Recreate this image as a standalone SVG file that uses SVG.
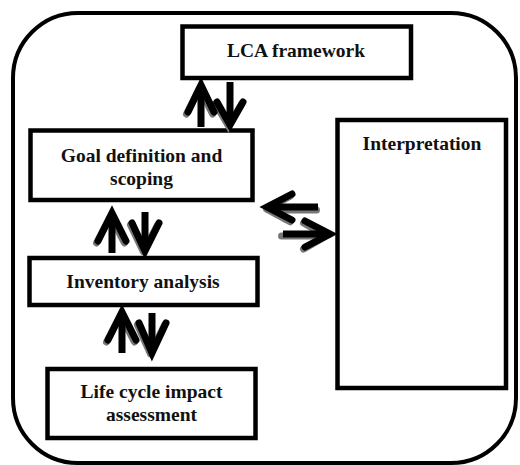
<svg xmlns="http://www.w3.org/2000/svg" width="520" height="465" viewBox="0 0 520 465">
<style>
.box{fill:#fff;stroke:#000;stroke-width:4.5}
.frame{fill:#fff;stroke:#000;stroke-width:4}
.lbl{font-family:"Liberation Serif","Times New Roman",serif;font-weight:bold;font-size:19.5px;fill:#111;text-anchor:middle}
.shaft{fill:none;stroke:#000;stroke-width:7;stroke-linecap:butt}
.head{fill:none;stroke:#000;stroke-width:7;stroke-linecap:round;stroke-linejoin:miter}
.sh{fill:none;stroke:#777;stroke-width:7;stroke-dasharray:1.5 1;stroke-linecap:round}
</style>
<rect class="frame" x="13" y="13" width="503" height="450" rx="65" ry="65"/>
<g id="lca"><rect class="box" x="182.5" y="26.5" width="228.5" height="51.5"/><text class="lbl" x="296" y="57">LCA framework</text></g>
<g id="goal"><rect class="box" x="30.5" y="130.5" width="222" height="69.5"/><text class="lbl" x="141.5" y="162">Goal definition and</text><text class="lbl" x="141.5" y="185">scoping</text></g>
<g id="interp"><rect class="box" x="337.5" y="120" width="168.5" height="268"/><text class="lbl" x="422" y="150">Interpretation</text></g>
<g id="inventory"><rect class="box" x="29.5" y="258" width="228" height="47"/><text class="lbl" x="143" y="288">Inventory analysis</text></g>
<g id="lcia"><rect class="box" x="47.5" y="369" width="208" height="69"/><text class="lbl" x="151.5" y="398">Life cycle impact</text><text class="lbl" x="151.5" y="421">assessment</text></g>
<g id="connectors">
<g transform="translate(-1.5,2)">
<path class="sh" d="M188,112 L201,86 L214,112 M217,102 L230,124 L243,102"/>
<path class="sh" d="M98,241 L112,214 L126,241 M132,223 L145,250 L159,223"/>
<path class="sh" d="M108,340 L122,313 L136,340 M139,323 L152,352 L166,323"/>
<path class="sh" d="M292,194 L268,207 L292,220 M318,208 L270,208 M283,234 L328,234 M305,221 L328,234 L305,247"/>
</g>
<path class="shaft" d="M201,127 V88 M230,82 V122"/>
<path class="head" d="M188,112 L201,85 L214,112 M217,102 L230,125 L243,102"/>
<path class="shaft" d="M112,253 V215 M145,212 V248"/>
<path class="head" d="M98,241 L112,213 L126,241 M132,223 L145,251 L159,223"/>
<path class="shaft" d="M122,353 V315 M152,313 V350"/>
<path class="head" d="M108,340 L122,312 L136,340 M139,323 L152,353 L166,323"/>
<path class="shaft" d="M318,207 H270 M283,234 H326"/>
<path class="head" d="M292,194 L267,207 L292,220 M305,221 L330,234 L305,247"/>
</g>
</svg>
